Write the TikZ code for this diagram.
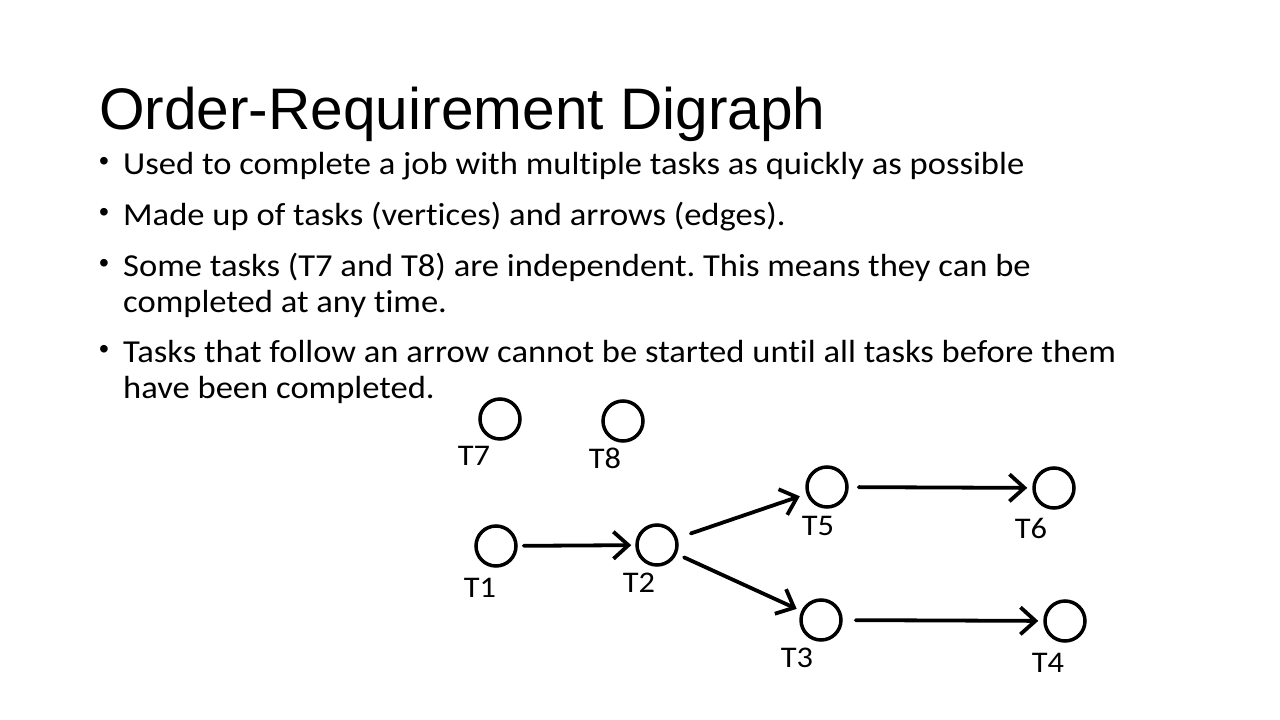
\documentclass[tikz,border=0pt]{standalone}
\usepackage{fontspec}
\setmainfont{Carlito}[Ligatures=NoCommon]
\newfontfamily\bodyfont{Carlito}[Ligatures=NoCommon, FakeStretch=1.08]
\newfontfamily\titlefont{Liberation Sans}
\usetikzlibrary{arrows.meta}
\tikzset{
  task/.style={circle, draw, line width=3.5pt, minimum size=40pt, inner sep=0pt},
  tlabel/.style={anchor=base, inner sep=0pt, font=\bodyfont\fontsize{30}{30}\selectfont},
  body/.style={anchor=base west, inner sep=0pt, font=\bodyfont\fontsize{32}{36}\selectfont},
  bul/.style={anchor=base, inner sep=0pt, font=\titlefont\fontsize{28}{36}\selectfont},
  conn/.style={line width=3.8pt, line cap=round, line join=round,
    -{Straight Barb[length=15pt,width=27pt,line width=3.8pt]}},
}
\begin{document}
\frenchspacing
\begin{tikzpicture}[x=1pt,y=-1pt]
\useasboundingbox (0,0) rectangle (1280,720);
\fill[white] (0,0) rectangle (1280,720);
% title
\node[anchor=base west, inner sep=0pt, font=\titlefont\fontsize{58.6}{60}\selectfont] (title) at (99,129) {Order-Requirement Digraph};
% bullets
\node[bul] (b1) at (104,170) {•};
\node[body] (l1) at (123,174) {Used to complete a job with multiple tasks as quickly as possible};
\node[bul] (b2) at (104,221) {•};
\node[body] (l2) at (123,225) {Made up of tasks (vertices) and arrows (edges).};
\node[bul] (b3) at (104,272) {•};
\node[body] (l3) at (123,276) {Some tasks (T7 and T8) are independent. This means they can be};
\node[body] (l3b) at (123,312) {completed at any time.};
\node[bul] (b4) at (104,358) {•};
\node[body] (l4) at (123,362) {Tasks that follow an arrow cannot be started until all tasks before them};
\node[body] (l4b) at (123,398) {have been completed.};
% tasks
\node[task] (T7) at (500,419) {};
\node[task] (T8) at (623,421) {};
\node[task] (T1) at (496,546) {};
\node[task] (T2) at (657,545) {};
\node[task] (T5) at (827,487) {};
\node[task] (T6) at (1054,488) {};
\node[task] (T3) at (821,620) {};
\node[task] (T4) at (1065,621) {};
% labels
\node[tlabel] (L7) at (474,465) {T7};
\node[tlabel] (L8) at (605,468) {T8};
\node[tlabel] (L1) at (480,597) {T1};
\node[tlabel] (L2) at (639,592) {T2};
\node[tlabel] (L5) at (818,535) {T5};
\node[tlabel] (L6) at (1031,538) {T6};
\node[tlabel] (L3) at (797,667) {T3};
\node[tlabel] (L4) at (1048,672) {T4};
% connectors
\draw[conn, shorten <=6pt, shorten >=4pt] (T1) -- (T2);
\draw[conn, shorten <=14pt, shorten >=7pt] (T2) -- (T5);
\draw[conn, shorten <=10pt, shorten >=5pt] (T5) -- (T6);
\draw[conn, shorten <=8pt, shorten >=5pt] (T2) -- (T3);
\draw[conn, shorten <=13pt, shorten >=5pt] (T3) -- (T4);
\end{tikzpicture}
\end{document}
